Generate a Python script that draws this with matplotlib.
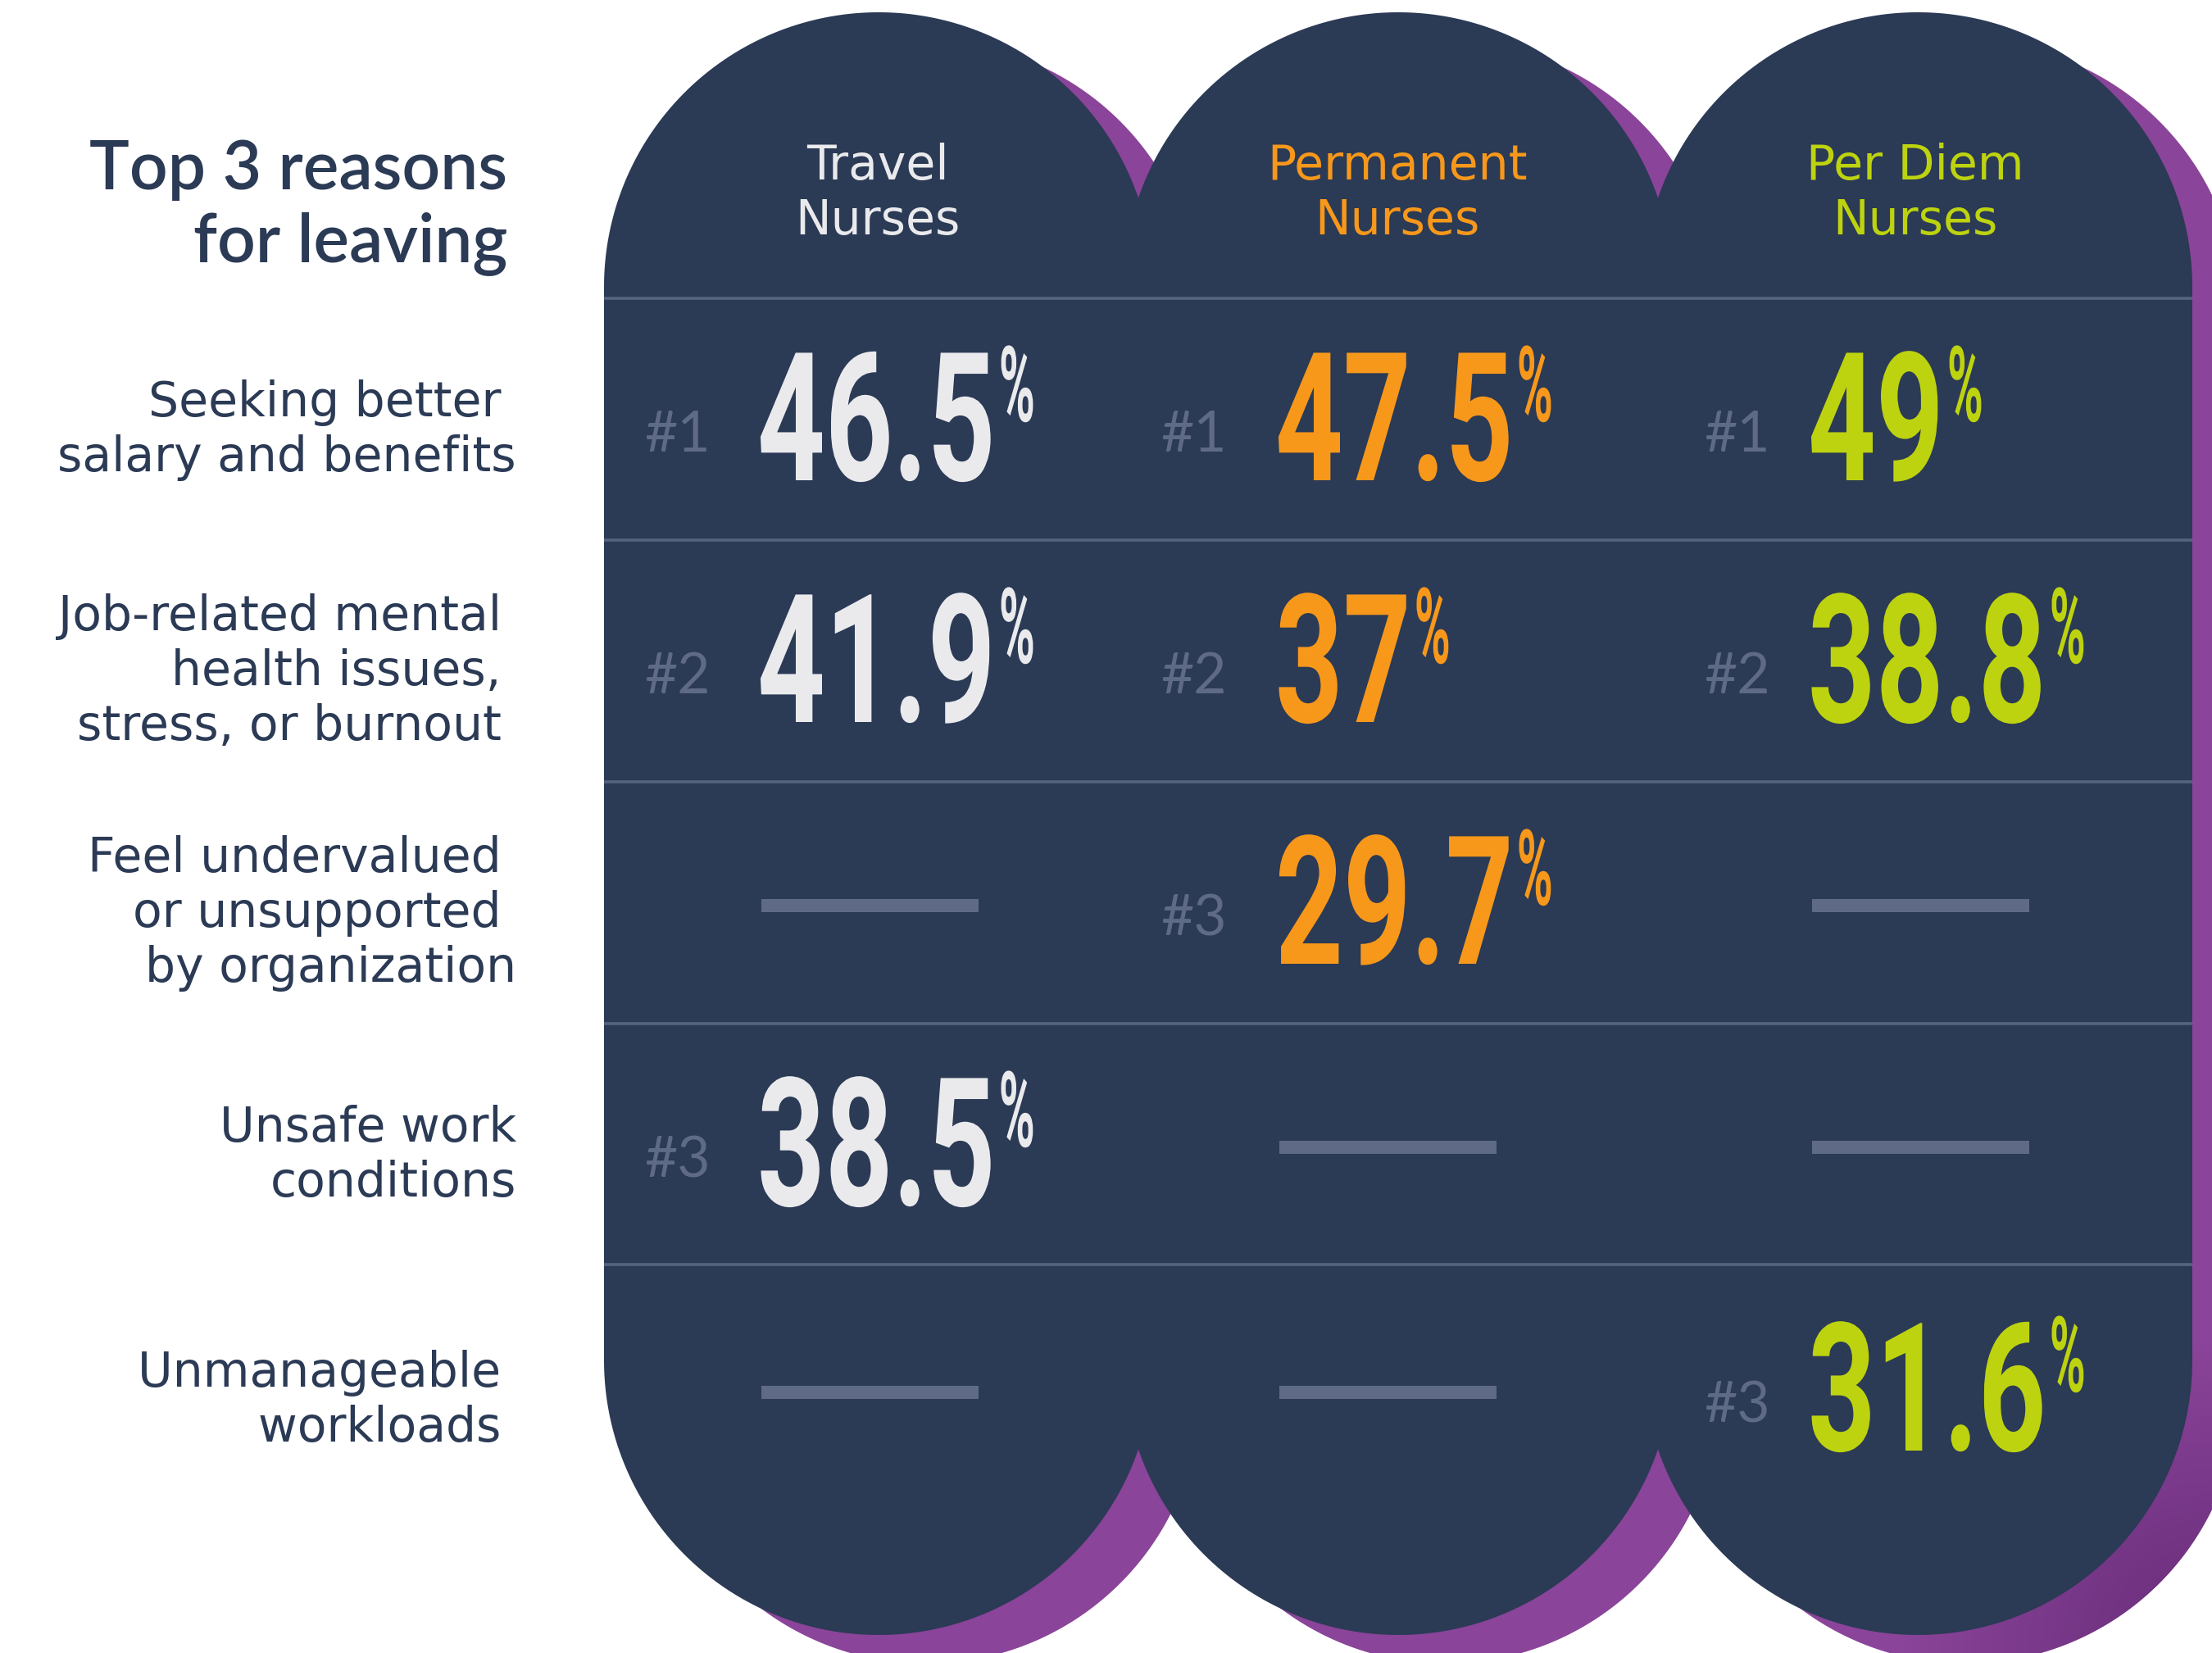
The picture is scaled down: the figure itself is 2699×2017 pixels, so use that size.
import matplotlib
matplotlib.use("Agg")
import matplotlib.pyplot as plt
import numpy as np
from matplotlib.path import Path
from matplotlib.patches import PathPatch, Rectangle
from matplotlib.patheffects import AbstractPathEffect
from matplotlib.transforms import Affine2D

# ---------------- data ----------------
title_lines = ["Top 3 reasons", "for leaving"]
groups = ["Travel\nNurses", "Permanent\nNurses", "Per Diem\nNurses"]
reasons = [
    "Seeking better \nsalary and benefits",
    "Job-related mental \nhealth issues, \nstress, or burnout ",
    "Feel undervalued \nor unsupported \nby organization",
    "Unsafe work\nconditions",
    "Unmanageable \nworkloads ",
]
travel_pct = [46.5, 41.9, None, 38.5, None]
permanent_pct = [47.5, 37, 29.7, None, None]
per_diem_pct = [49, 38.8, None, None, 31.6]
travel_rank = [1, 2, None, 3, None]
permanent_rank = [1, 2, 3, None, None]
per_diem_rank = [1, 2, None, None, 3]

values = [travel_pct, permanent_pct, per_diem_pct]
ranks = [travel_rank, permanent_rank, per_diem_rank]

# ---------------- style ----------------
NAVY = "#2B3A55"
PURPLE = "#8A4499"
LINE = "#56637F"
MUTED = "#5F6B86"
TEXT = "#2B3A55"
group_colors = ["#EAEAED", "#F7981B", "#BDD30F"]

W, H = 2699, 2017
fig = plt.figure(figsize=(W / 100, H / 100), dpi=100)
ax = fig.add_axes([0, 0, 1, 1])
ax.set_xlim(0, W)
ax.set_ylim(H, 0)
ax.axis("off")

col_cx = [1072, 1706, 2340]
R = 335
TOP_CY, BOT_CY = 350, 1660
SH_DX, SH_DY = 58, 35


def stadium(cx, top_cy, bot_cy, r):
    t1 = np.linspace(np.pi, 0, 200)
    t2 = np.linspace(0, -np.pi, 200)
    xs = np.concatenate([cx + r * np.cos(t1), cx + r * np.cos(t2)])
    ys = np.concatenate([top_cy - r * np.sin(t1), bot_cy - r * np.sin(t2)])
    verts = np.column_stack([xs, ys])
    verts = np.vstack([verts, verts[:1]])
    codes = [Path.MOVETO] + [Path.LINETO] * (len(verts) - 2) + [Path.CLOSEPOLY]
    return Path(verts, codes)


purple_patches = []
for cx in col_cx:
    p = PathPatch(stadium(cx + SH_DX, TOP_CY + SH_DY, BOT_CY + SH_DY, R),
                  facecolor=PURPLE, edgecolor="none", zorder=1)
    ax.add_patch(p)
    purple_patches.append(p)

# darker textured corner (smooth gradient)
gy, gx = np.mgrid[1600:2017:2, 2300:2699:2]
d = np.hypot(gx - 2699, gy - 2017)
alpha = np.clip(1 - d / 380.0, 0, 1) * 0.75
img = np.zeros(gx.shape + (4,))
img[..., 0] = 0.36
img[..., 1] = 0.14
img[..., 2] = 0.43
img[..., 3] = alpha
im = ax.imshow(img, extent=(2300, 2699, 2017, 1600), aspect="auto", zorder=1.5,
               interpolation="bilinear")
im.set_clip_path(purple_patches[-1])

for cx in col_cx:
    ax.add_patch(PathPatch(stadium(cx, TOP_CY, BOT_CY, R),
                           facecolor=NAVY, edgecolor="none", zorder=2))

ax.set_xlim(0, W)
ax.set_ylim(H, 0)

# row dividers
dividers = [364, 659, 954, 1249, 1543]
ax.hlines(dividers, 737, 2675, color=LINE, lw=2.6, zorder=3)
row_cy = [511, 806, 1101, 1396, 1695]


class Stretch(AbstractPathEffect):
    """Stretch glyphs vertically (about the baseline) to mimic a condensed face."""

    def __init__(self, sy):
        super().__init__()
        self.sy = sy

    def draw_path(self, renderer, gc, tpath, affine, rgbFace=None):
        renderer.draw_path(gc, tpath, Affine2D().scale(1.0, self.sy) + affine, rgbFace)


NUM_FS, NUM_SY = 104, 1.515
PCT_FS, PCT_SY = 43, 2.15
num_x = [924, 1556, 2206]
rank_x = [786, 1416, 2079]
header_cx = [1071, 1705, 2337]

renderer = fig.canvas.get_renderer()

# headers
for ci, g in enumerate(groups):
    for li, line in enumerate(g.split("\n")):
        ax.text(header_cx[ci], 219 + li * 67, line, fontsize=42, family="DejaVu Sans",
                color=group_colors[ci], ha="center", va="baseline", zorder=4)

# values
for ci in range(3):
    for ri, v in enumerate(values[ci]):
        cy = row_cy[ri]
        if v is None:
            ax.add_patch(Rectangle((num_x[ci] + 5, cy - 4), 265, 16, facecolor=MUTED,
                                   edgecolor="none", zorder=4))
            continue
        s = f"{v:g}"
        t = ax.text(num_x[ci], cy + 75, s, fontsize=NUM_FS, family="Roboto", weight="bold",
                    color=group_colors[ci], ha="left", va="baseline", zorder=4,
                    path_effects=[Stretch(NUM_SY)])
        w = t.get_window_extent(renderer=renderer).width
        ax.text(num_x[ci] + w + 4, cy + 75 - 72, "%", fontsize=PCT_FS, family="Roboto",
                weight="bold", color=group_colors[ci], ha="left", va="baseline", zorder=4,
                path_effects=[Stretch(PCT_SY)])
        r = ranks[ci][ri]
        ax.text(rank_x[ci], cy + 40, f"#{r}", fontsize=50, family="Lato", weight="normal",
                color=MUTED, ha="left", va="baseline", zorder=4)

# reason labels
GAP = 67
for ri, lab in enumerate(reasons):
    lines = lab.split("\n")
    n = len(lines)
    y0 = row_cy[ri] - 0.5 * (n - 1) * GAP + 30
    for li, line in enumerate(lines):
        ax.text(630, y0 + li * GAP, line, fontsize=42, family="DejaVu Sans", color=TEXT,
                ha="right", va="baseline", zorder=4)

# title
for li, line in enumerate(title_lines):
    ax.text(619, 231 + li * 88, line, fontsize=59, family="Lato", weight="semibold",
            color=TEXT, ha="right", va="baseline", zorder=4)

fig.savefig("out.png", dpi=100, facecolor="white")
